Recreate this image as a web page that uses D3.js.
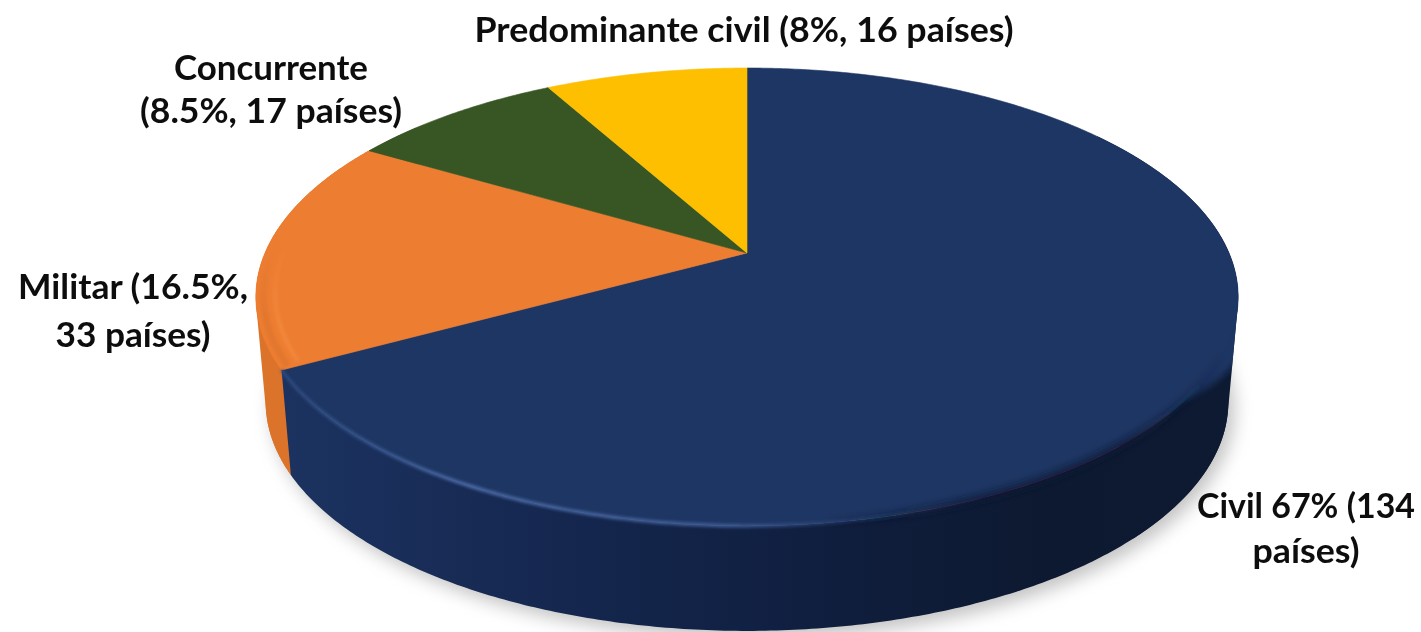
<!DOCTYPE html>
<html><head><meta charset="utf-8">
<script src="https://cdn.jsdelivr.net/npm/d3@7/dist/d3.min.js"></script>
<style>html,body{margin:0;padding:0;background:#fff;overflow:hidden}svg{display:block}</style>
</head><body><div id="chart"></div>
<script>
const categories = ["Civil","Militar","Concurrente","Predominante civil"];
const shares = [67,16.5,8.5,8];
const countries = [134,33,17,16];
const colors = ["#1e3663","#ed7d31","#375623","#fdbf00"];
const sideColors = ["url(#civilSide)","#dc732a","#2c451c","#cc9a00"];
const labelLines = [
  ["Civil 67% (134","países)"],
  ["Militar (16.5%,","33 países)"],
  ["Concurrente","(8.5%, 17 países)"],
  ["Predominante civil (8%, 16 países)"]
];
const labelAnchors = [
  {x:1306,y:518,dy:45,w:[218,107]},
  {x:133,y:299,dy:48,w:[230,155]},
  {x:271,y:80,dy:43,w:[194,262]},
  {x:744,y:42,dy:0,w:[539]}
];

const W=1421,H=632;
const svg=d3.select("#chart").append("svg").attr("width",W).attr("height",H);
const defs=svg.append("defs");
const blur=(id,s)=>defs.append("filter").attr("id",id)
  .attr("filterUnits","userSpaceOnUse").attr("x",0).attr("y",0).attr("width",W).attr("height",H)
  .append("feGaussianBlur").attr("stdDeviation",s);
blur("shadowBlur",9);blur("edgeBlur",3.5);blur("glowBlur",1.8);blur("textBlur",0.45);

const gradient=(id,x1,x2,y1,y2,stops)=>{
  const g=defs.append("linearGradient").attr("id",id).attr("gradientUnits","userSpaceOnUse")
    .attr("x1",x1).attr("x2",x2).attr("y1",y1).attr("y2",y2);
  stops.forEach(([o,c,a])=>g.append("stop").attr("offset",o).attr("stop-color",c).attr("stop-opacity",a));
};
gradient("civilSide",270,1240,0,0,[[0,"#1c3361",1],[0.3,"#15274f",1],[0.55,"#101f40",1],[0.8,"#0d1930",1],[1,"#0e1a32",1]]);
gradient("rimLight",285,1000,0,0,[[0,"#2f5088",0.7],[0.25,"#4a6aa6",1],[0.62,"#44639e",0.85],[0.85,"#2a3f70",0.25],[1,"#2a3f70",0]]);
gradient("rimDark",820,1225,0,0,[[0,"#0e1a32",0],[0.35,"#0e1a32",0.9],[0.75,"#0e1a32",0.9],[1,"#0e1a32",0]]);
gradient("milDark",0,0,235,320,[[0,"#e2772d",0],[1,"#e2772d",1]]);
gradient("milLight",0,0,245,330,[[0,"#f38a40",0],[1,"#f38a40",0.8]]);

// perspective projection of the pie disc: maps angle (clockwise from 12 o'clock) to the page
const cx=747, cy=253, persp=0.192;
const rX=d3.scaleLinear().domain([-1,1]).range([-482,482]);
const rY=d3.scaleLinear().domain([-1,1]).range([220.5,-220.5]);
const depth=105;
function project(angle,r=1,z=0){
  const X=Math.sin(angle)*r, Y=Math.cos(angle)*r, w=1+persp*Y;
  const s=1-0.02*z;
  return [cx+rX(X)/w*s, cy+rY(Y)/w+depth*z];
}
const steps=(a,b)=>{const n=Math.max(2,Math.ceil(Math.abs(b-a)/0.01));
  return d3.range(n+1).map(i=>a+(b-a)*i/n);};
const line=d3.line();
const T=2*Math.PI;
const hull=(a,b)=>d3.polygonHull(steps(a,b).flatMap(t=>[project(t,1,0),project(t,1,1)]));

const arcs=d3.pie().sort(null).startAngle(0).endAngle(T)(shares);

// ground shadow
svg.append("path")
  .attr("d",line(steps(0,T).map(a=>{const p=project(a,1,1.02);return [p[0]+6,p[1]+5];}))+"Z")
  .attr("fill","#8f8f8f").attr("opacity",0.55).attr("filter","url(#shadowBlur)");

// side walls
const visibleFrom=Math.PI*0.30, visibleTo=Math.PI*1.72;
defs.append("clipPath").attr("id","bodyClip").append("path").attr("d",line(hull(0,T))+"Z");
arcs.slice().reverse().forEach(d=>{
  const a=Math.max(d.startAngle,visibleFrom), b=Math.min(d.endAngle,visibleTo);
  if(b<=a) return;
  const ang=steps(a,b);
  const pts=ang.map(t=>project(t,1,0)).concat(ang.slice().reverse().map(t=>project(t,1,1)));
  const g=svg.append("g");
  if(d.index===1) g.append("path").attr("d",line(hull(a,b))+"Z").attr("fill",sideColors[1]);
  if(d.index===0) g.append("path").attr("d",line(hull(visibleFrom,Math.PI*0.75))+"Z").attr("fill",sideColors[0]);
  g.append("path").attr("d",line(pts)+"Z").attr("fill",sideColors[d.index]);
});

// the face colour wraps over the rim on the right, fading out towards the front
const body=svg.append("g").attr("clip-path","url(#bodyClip)");
const wrapEnd=2.2;
const wrap=steps(1.3,wrapEnd);
const zAt=t=>Math.max(0,0.5*(wrapEnd-t)/0.6);
const rAt=t=>1+0.05*(wrapEnd-t)/0.9;
body.append("path")
  .attr("d",line(wrap.map(t=>project(t,rAt(t),Math.min(zAt(t),0.5))).concat(wrap.slice().reverse().map(t=>project(t,0.93))))+"Z")
  .attr("fill",colors[0]).attr("filter","url(#edgeBlur)");

// top face slices
const slice=d=>line([[cx,cy]].concat(steps(d.startAngle,d.endAngle).map(t=>project(t)))) +"Z";
svg.append("g").selectAll("path").data(arcs).join("path")
  .attr("d",slice).attr("fill",d=>colors[d.index])
  .attr("stroke",d=>colors[d.index]).attr("stroke-width",0.6);

// bevel along the near rim of the Civil slice
const civil=arcs[0], mil=arcs[1];
const rimBody=svg.append("g").attr("clip-path","url(#bodyClip)");
rimBody.append("path")
  .attr("d",line(steps(2.0,Math.PI).map(t=>project(t,1))))
  .attr("fill","none").attr("stroke","url(#rimDark)").attr("stroke-width",7)
  .attr("filter","url(#edgeBlur)");
rimBody.append("path")
  .attr("d",line(steps(Math.PI*0.85,civil.endAngle).map(t=>project(t))))
  .attr("fill","none").attr("stroke","url(#rimLight)").attr("stroke-width",3.5)
  .attr("filter","url(#glowBlur)");
// Militar rim: darker outer strip, lighter band just inside it
const span=mil.endAngle-mil.startAngle;
rimBody.append("path")
  .attr("d",line(steps(mil.startAngle+0.01,mil.startAngle+span*0.6).map(t=>project(t,0.985))))
  .attr("fill","none").attr("stroke","url(#milDark)").attr("stroke-width",7).attr("filter","url(#glowBlur)");
rimBody.append("path")
  .attr("d",line(steps(mil.startAngle+0.02,mil.startAngle+span*0.6).map(t=>project(t,0.962))))
  .attr("fill","none").attr("stroke","url(#milLight)").attr("stroke-width",4).attr("filter","url(#glowBlur)");

// labels
const lab=svg.append("g").attr("font-family","Lato, 'Open Sans', sans-serif")
  .attr("font-weight",700).attr("font-size",35).attr("fill","#0d0d0d")
  .attr("text-anchor","middle").attr("filter","url(#textBlur)");
labelLines.forEach((ls,i)=>{
  ls.forEach((t,j)=>lab.append("text").attr("x",labelAnchors[i].x)
    .attr("y",labelAnchors[i].y+j*labelAnchors[i].dy)
    .attr("textLength",labelAnchors[i].w[j]).attr("lengthAdjust","spacingAndGlyphs").text(t));
});
</script></body></html>
